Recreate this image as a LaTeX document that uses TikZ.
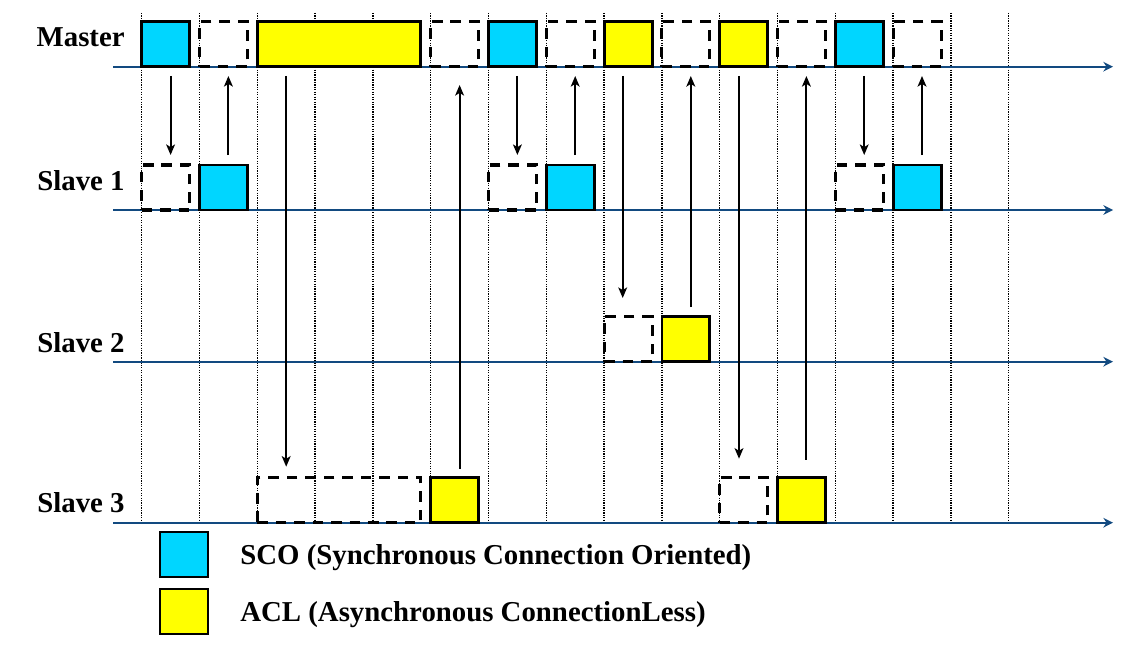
\documentclass[tikz,border=0pt]{standalone}
\usepackage{fontspec}
\setmainfont{Liberation Serif}
\usetikzlibrary{arrows.meta,positioning}
\definecolor{lineblue}{RGB}{18,74,128}
\definecolor{scoblue}{RGB}{0,214,255}
\definecolor{aclyellow}{RGB}{255,255,0}

\begin{document}
\begin{tikzpicture}[x=0.02cm, y=-0.02cm,
		slot/.style={draw=black, line width=1.6pt, minimum width=0.96cm, minimum height=0.9cm, inner sep=0pt, outer sep=0pt, anchor=south west},
		sco/.style={slot, fill=scoblue},
		acl/.style={slot, fill=aclyellow},
		idle/.style={slot, line width=1.8pt, dash pattern=on 6pt off 4.5pt},
		wide/.style={minimum width=3.272cm},
		timeline/.style={draw=lineblue, line width=1.2pt, -{Stealth[length=5.5pt,width=5.5pt]}},
		gridline/.style={line width=0.8pt, dash pattern=on 0.7pt off 0.7pt},
		sig/.style={line width=1.1pt, -{Stealth[length=6pt,width=5pt,inset=1.5pt]}},
		lbl/.style={font=\fontsize{16.4}{19}\selectfont\bfseries, inner sep=0pt}]
			%%%%% START %%%%%
			\useasboundingbox (0,0) rectangle (1148,648);
			
			% slot grid
			\foreach \k in {0,...,15}
				\draw[gridline] ({141.7+57.8*\k},13) -- ({141.7+57.8*\k},522.7);
			
			% time lines
			\draw[timeline] (113,66.7) -- (1113,66.7);
			\draw[timeline] (113,210) -- (1113,210);
			\draw[timeline] (113,361.7) -- (1113,361.7);
			\draw[timeline] (113,522.7) -- (1113,522.7);
			
			\node[lbl, anchor=base east] (master) at (125,46.7) {Master};
			\node[lbl, anchor=base east] (slaveA) at (125,190.7) {Slave 1};
			\node[lbl, anchor=base east] (slaveB) at (125,352.7) {Slave 2};
			\node[lbl, anchor=base east] (slaveC) at (125,512.7) {Slave 3};
			
			% master
			\node[sco] (m0) at (141.7,66.7) {};
			\node[idle] (m1) at (199.5,66.7) {};
			\node[acl, wide] (m2) at (257.3,66.7) {};
			\node[idle] (m5) at (430.7,66.7) {};
			\node[sco] (m6) at (488.5,66.7) {};
			\node[idle] (m7) at (546.3,66.7) {};
			\node[acl] (m8) at (604.1,66.7) {};
			\node[idle] (m9) at (661.9,66.7) {};
			\node[acl] (m10) at (719.7,66.7) {};
			\node[idle] (m11) at (777.5,66.7) {};
			\node[sco] (m12) at (835.3,66.7) {};
			\node[idle] (m13) at (893.1,66.7) {};
			
			% slave 1
			\node[idle] (a0) at (141.7,210) {};
			\node[sco] (a1) at (199.5,210) {};
			\node[idle] (a6) at (488.5,210) {};
			\node[sco] (a7) at (546.3,210) {};
			\node[idle] (a12) at (835.3,210) {};
			\node[sco] (a13) at (893.1,210) {};
			
			% slave 2
			\node[idle] (b8) at (604.1,361.7) {};
			\node[acl] (b9) at (661.9,361.7) {};
			
			% slave 3
			\node[idle, wide] (c2) at (257.3,522.7) {};
			\node[acl] (c5) at (430.7,522.7) {};
			\node[idle] (c10) at (719.7,522.7) {};
			\node[acl] (c11) at (777.5,522.7) {};
			
			% polls and replies
			\draw[sig, shorten <=0.186cm, shorten >=0.2cm] ([xshift=0.578cm]m0.south west) -- ([xshift=0.578cm]a0.north west);
			\draw[sig, shorten <=0.2cm, shorten >=0.186cm] ([xshift=0.578cm]a1.north west) -- ([xshift=0.578cm]m1.south west);
			\draw[sig, shorten <=0.186cm, shorten >=0.22cm] ([xshift=0.578cm]m2.south west) -- ([xshift=0.578cm]c2.north west);
			\draw[sig, shorten <=0.18cm, shorten >=0.366cm] ([xshift=0.578cm]c5.north west) -- ([xshift=0.578cm]m5.south west);
			\draw[sig, shorten <=0.186cm, shorten >=0.2cm] ([xshift=0.578cm]m6.south west) -- ([xshift=0.578cm]a6.north west);
			\draw[sig, shorten <=0.2cm, shorten >=0.186cm] ([xshift=0.578cm]a7.north west) -- ([xshift=0.578cm]m7.south west);
			\draw[sig, shorten <=0.186cm, shorten >=0.374cm] ([xshift=0.372cm]m8.south west) -- ([xshift=0.372cm]b8.north west);
			\draw[sig, shorten <=0.194cm, shorten >=0.186cm] ([xshift=0.578cm]b9.north west) -- ([xshift=0.578cm]m9.south west);
			\draw[sig, shorten <=0.186cm, shorten >=0.38cm] ([xshift=0.386cm]m10.south west) -- ([xshift=0.386cm]c10.north west);
			\draw[sig, shorten <=0.36cm, shorten >=0.186cm] ([xshift=0.578cm]c11.north west) -- ([xshift=0.578cm]m11.south west);
			\draw[sig, shorten <=0.186cm, shorten >=0.2cm] ([xshift=0.578cm]m12.south west) -- ([xshift=0.578cm]a12.north west);
			\draw[sig, shorten <=0.2cm, shorten >=0.186cm] ([xshift=0.578cm]a13.north west) -- ([xshift=0.578cm]m13.south west);
			
			% legend
			\node[sco] (keysco) at (160,577) {};
			\node[acl] (keyacl) at (160,634) {};
			\node[lbl, anchor=west] (txtsco) at (240,558) {SCO (Synchronous Connection Oriented)};
			\node[lbl, anchor=west] (txtacl) at (240,615) {ACL (Asynchronous ConnectionLess)};
			
			%%%%% END %%%%%
		\end{tikzpicture}
\end{document}
